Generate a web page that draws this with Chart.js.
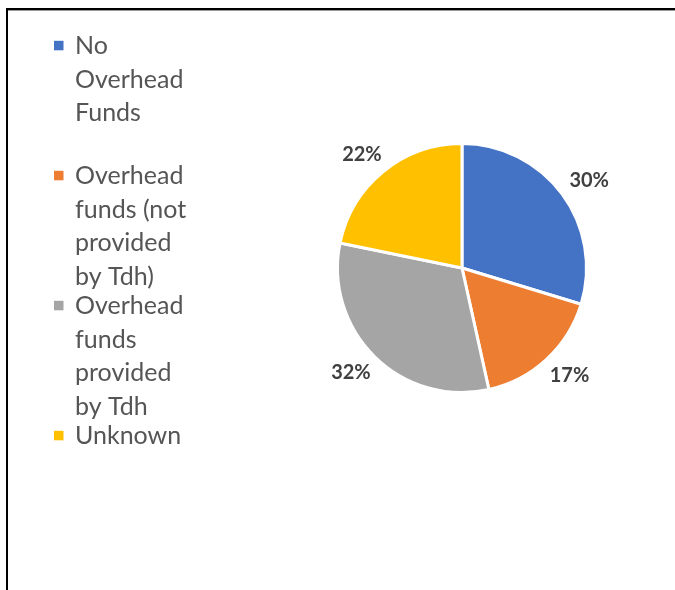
<!DOCTYPE html>
<html>
<head>
<meta charset="utf-8">
<script src="https://cdn.jsdelivr.net/npm/chart.js@4/dist/chart.umd.min.js"></script>
<style>
  html, body { margin: 0; padding: 0; background: #fff; }
  #wrap { position: relative; width: 675px; height: 590px; overflow: hidden; }
  #frame {
    position: absolute; left: 6px; top: 8px; width: 900px; height: 900px;
    border-left: 2px solid #000; border-top: 2px solid #000;
    box-shadow: inset 0 1px 0 #9a9a9a;
  }
  #c { position: absolute; left: 0; top: 0; }
</style>
</head>
<body>
<div id="wrap">
  <div id="frame"></div>
  <canvas id="c" width="675" height="590"></canvas>
</div>
<script>
// Funding categories and their shares (percent)
const categories = [
  'No Overhead Funds',
  'Overhead funds (not provided by Tdh)',
  'Overhead funds provided by Tdh',
  'Unknown'
];
const shares = [30, 17, 32, 22];
const sliceColors = ['#4472C4', '#ED7D31', '#A5A5A5', '#FFC000'];

// Wrap a label into lines no wider than maxWidth
function wrapText(ctx, text, maxWidth) {
  const words = text.split(' ');
  const lines = [];
  let line = '';
  for (const w of words) {
    const test = line ? line + ' ' + w : w;
    if (line && ctx.measureText(test).width > maxWidth) {
      lines.push(line);
      line = w;
    } else {
      line = test;
    }
  }
  if (line) lines.push(line);
  return lines;
}

// Legend drawn on the left, one fixed-height slot per category
const sideLegend = {
  id: 'sideLegend',
  afterDraw(chart, args, opts) {
    const ctx = chart.ctx;
    const labels = chart.data.labels;
    const colors = chart.data.datasets[0].backgroundColor;
    ctx.save();
    ctx.font = opts.font;
    ctx.textBaseline = 'alphabetic';
    ctx.textAlign = 'left';
    labels.forEach((label, i) => {
      const base = opts.top + i * opts.slot;
      ctx.fillStyle = colors[i];
      ctx.fillRect(opts.boxX, base - 13.2, opts.boxSize, opts.boxSize);
      ctx.fillStyle = opts.color;
      wrapText(ctx, label, opts.maxWidth).forEach((ln, j) => {
        ctx.fillText(ln, opts.textX, base + j * opts.lineHeight);
      });
    });
    ctx.restore();
  }
};

// Percentage labels just outside each slice
const outsideLabels = {
  id: 'outsideLabels',
  afterDatasetsDraw(chart, args, opts) {
    const ctx = chart.ctx;
    const meta = chart.getDatasetMeta(0);
    const values = chart.data.datasets[0].data;
    ctx.save();
    ctx.font = opts.font;
    ctx.fillStyle = opts.color;
    ctx.textAlign = 'center';
    ctx.textBaseline = 'middle';
    meta.data.forEach((arc, i) => {
      const p = arc.getProps(['x', 'y', 'startAngle', 'endAngle', 'outerRadius'], true);
      const mid = (p.startAngle + p.endAngle) / 2;
      const dx = Math.cos(mid), dy = Math.sin(mid);
      const text = values[i] + '%';
      const w = ctx.measureText(text).width;
      const h = opts.boxHeight;
      const r = p.outerRadius + opts.gap;
      const cx = p.x + dx * r + dx * w / 2;
      const cy = p.y + dy * r + dy * h / 2;
      ctx.fillText(text, cx, cy);
    });
    ctx.restore();
  }
};

new Chart(document.getElementById('c'), {
  type: 'pie',
  data: {
    labels: categories,
    datasets: [{
      data: shares,
      backgroundColor: sliceColors,
      borderColor: '#ffffff',
      borderWidth: 3
    }]
  },
  options: {
    responsive: false,
    animation: false,
    layout: { padding: { left: 336, right: 87, top: 142, bottom: 196 } },
    plugins: {
      legend: { display: false },
      tooltip: { enabled: false },
      sideLegend: {
        font: '25px Lato', color: '#555555',
        top: 54, slot: 130, lineHeight: 33.5,
        boxX: 54, boxSize: 9.5, textX: 75, maxWidth: 124
      },
      outsideLabels: {
        font: 'bold 20px Lato', color: '#404040',
        gap: 14, boxHeight: 16
      }
    }
  },
  plugins: [sideLegend, outsideLabels]
});
</script>
</body>
</html>
